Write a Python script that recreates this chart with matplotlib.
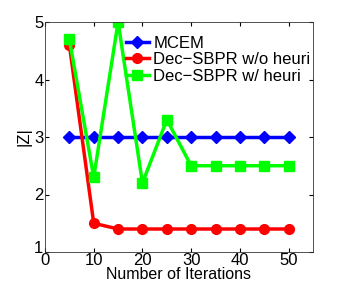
import matplotlib
matplotlib.use("Agg")
import matplotlib.pyplot as plt
import matplotlib.transforms as mtransforms

# data
iterations = [5, 10, 15, 20, 25, 30, 35, 40, 45, 50]
mcem = [3, 3, 3, 3, 3, 3, 3, 3, 3, 3]
no_heuri = [4.6, 1.5, 1.4, 1.4, 1.4, 1.4, 1.4, 1.4, 1.4, 1.4]
with_heuri = [4.7, 2.3, 5.0, 2.2, 3.3, 2.5, 2.5, 2.5, 2.5, 2.5]

plt.rcParams['font.family'] = ['Liberation Sans', 'DejaVu Sans']

fig = plt.figure(figsize=(3.46, 2.89), dpi=100)
ax = fig.add_axes([45 / 346, 1 - 252 / 289, 268 / 346, 230 / 289])

ax.plot(iterations, mcem, color=(0, 0, 1), lw=2.5, marker='D', ms=6.5, label='MCEM')
ax.plot(iterations, no_heuri, color=(1, 0, 0), lw=2.5, marker='o', ms=7, label='Dec\u2212SBPR w/o heuri')
ax.plot(iterations, with_heuri, color=(0, 1, 0), lw=2.5, marker='s', ms=6.5, label='Dec\u2212SBPR w/ heuri')

ax.set_xlim(0, 55)
ax.set_ylim(1, 5)
ax.set_xticks([0, 10, 20, 30, 40, 50])
ax.set_yticks([1, 2, 3, 4, 5])
ax.tick_params(direction='in', top=True, right=True, labelsize=12, length=3, pad=1)
for s in ax.spines.values():
    s.set_linewidth(0.6)
    s.set_color('#333333')

# lift the bottom y label a bit so it clears the "0" below it
lbl = ax.get_yticklabels()[0]
lbl.set_transform(lbl.get_transform() + mtransforms.ScaledTranslation(-1 / 100, 5 / 100, fig.dpi_scale_trans))

ax.set_xlabel('Number of Iterations', fontsize=11.5, labelpad=-1)
ax.set_ylabel('|Z|', fontsize=12, labelpad=1)

ax.legend(loc='upper right', frameon=False, fontsize=12, handlelength=1.4,
          handletextpad=0.25, labelspacing=0.1, borderaxespad=0.0,
          bbox_to_anchor=(1.015, 0.97))

fig.savefig('out.png', dpi=100)
